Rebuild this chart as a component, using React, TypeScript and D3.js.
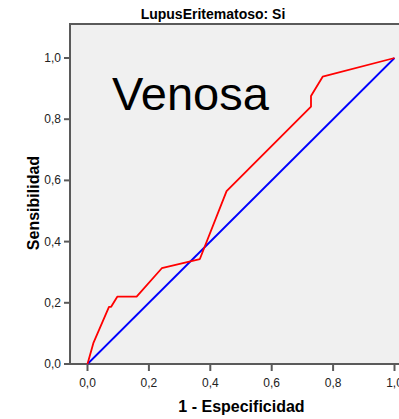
import React from 'react';
import * as d3 from 'd3';

// ROC curve points: 1 - specificity (fpr) vs sensitivity (tpr)
const fpr = [0, 0.019, 0.07, 0.077, 0.097, 0.16, 0.242, 0.366, 0.453, 0.728, 0.728, 0.766, 1.0];
const tpr = [0, 0.068, 0.187, 0.187, 0.22, 0.22, 0.313, 0.343, 0.565, 0.841, 0.876, 0.939, 1.0];
const refLine = [0, 1];
const ticks = [0, 0.2, 0.4, 0.6, 0.8, 1.0];
const fmt = (v: number) => v.toFixed(1).replace('.', ',');

const App: React.FC = () => {
  const width = 399;
  const height = 419;
  const x = d3.scaleLinear().domain([0, 1]).range([87.5, 394.5]);
  const y = d3.scaleLinear().domain([0, 1]).range([364, 58]);

  const line = d3.line<[number, number]>()
    .x(d => x(d[0]))
    .y(d => y(d[1]));

  const rocPts = fpr.map((f, i) => [f, tpr[i]] as [number, number]);
  const refPts = refLine.map(v => [v, v] as [number, number]);

  const frameColor = '#5a5a5a';
  const font = '"Liberation Sans", Arial, sans-serif';

  return (
    <svg width={width} height={height} style={{ position: 'absolute', left: 0, top: 0 }}>
      <rect x={0} y={0} width={width} height={height} fill="#ffffff" />
      <text x={213} y={19} textAnchor="middle" fontFamily={font} fontWeight="bold" fontSize={14}>
        LupusEritematoso: Si
      </text>
      {/* plot area */}
      <rect x={70} y={24} width={340} height={340} fill="#f0f0f0" stroke={frameColor} strokeWidth={2} />

      <text x={112} y={110} fontFamily={font} fontSize={47} fill="#000">Venosa</text>

      <path d={line(refPts) ?? ''} fill="none" stroke="#0000ff" strokeWidth={1.8} />
      <path d={line(rocPts) ?? ''} fill="none" stroke="#ff0000" strokeWidth={1.8} strokeLinejoin="round" />

      {/* y axis */}
      {ticks.map(t => (
        <g key={'y' + t}>
          <line x1={64} x2={70} y1={y(t)} y2={y(t)} stroke={frameColor} strokeWidth={2} />
          <text x={61} y={y(t) + 4} textAnchor="end" fontFamily={font} fontSize={12} fill="#222">{fmt(t)}</text>
        </g>
      ))}
      {/* x axis */}
      {ticks.map(t => (
        <g key={'x' + t}>
          <line x1={x(t)} x2={x(t)} y1={364} y2={371} stroke={frameColor} strokeWidth={2} />
          <text x={x(t)} y={387} textAnchor="middle" fontFamily={font} fontSize={12} fill="#222">{fmt(t)}</text>
        </g>
      ))}

      <text x={241.5} y={412} textAnchor="middle" fontFamily={font} fontWeight="bold" fontSize={16}>
        1 - Especificidad
      </text>
      <text transform="translate(39,203) rotate(-90)" textAnchor="middle" fontFamily={font} fontWeight="bold" fontSize={16}>
        Sensibilidad
      </text>
    </svg>
  );
};

export default App;
